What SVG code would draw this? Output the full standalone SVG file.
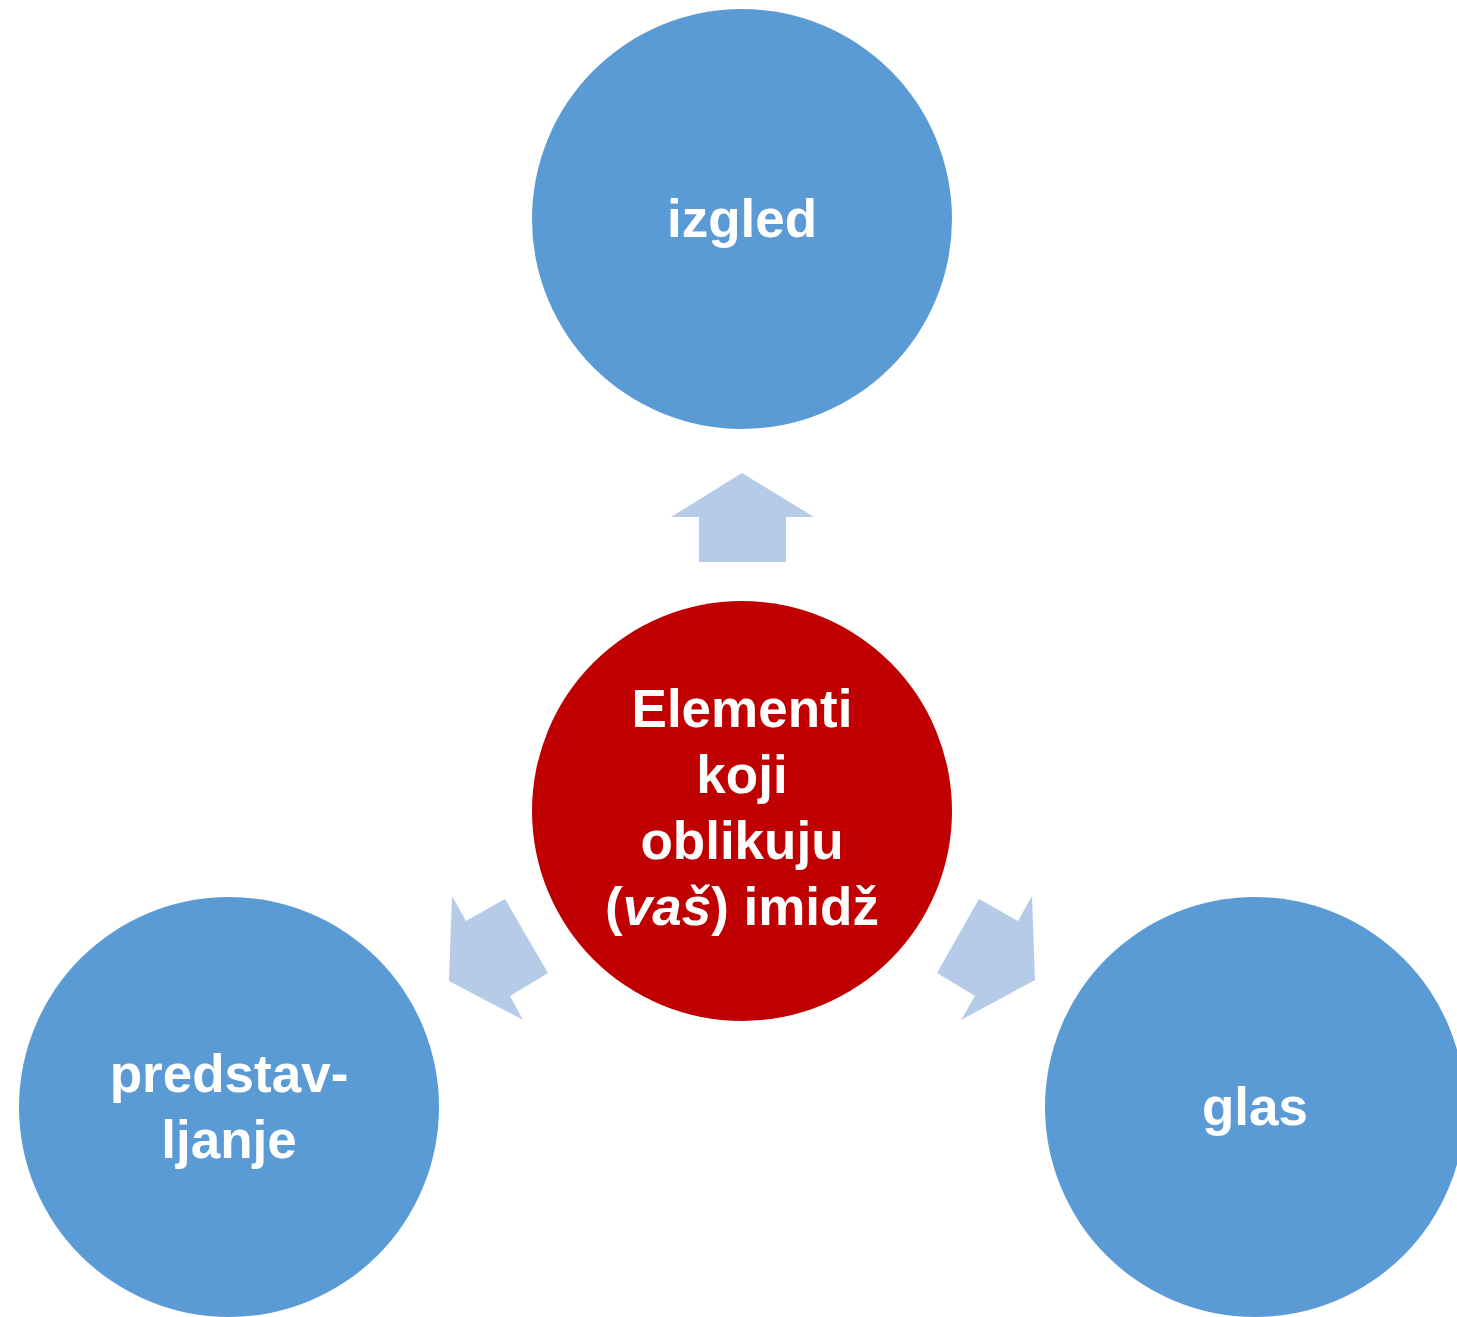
<svg xmlns="http://www.w3.org/2000/svg" width="1457" height="1317" viewBox="0 0 1457 1317">
<style>
.blue{fill:#5B9BD5}
.red{fill:#C00000}
.arr{fill:#B5CBE8}
.t{font-family:"Liberation Sans",Arial,sans-serif;font-weight:bold;font-size:53px;fill:#FFFFFF;text-anchor:middle}
</style>
<rect width="1457" height="1317" fill="#FFFFFF"/>
<g id="connectors">
<polygon class="arr" points="699,562 786,562 786,517 814,517 742,473 671,517 699,517"/>
<polygon class="arr" points="452,896 466,921 505,899 548,973 510,996 523,1020 449,981"/>
<polygon class="arr" points="1032,896 1018,921 979,899 937,973 975,996 961,1020 1035,980"/>
</g>
<g id="node-izgled">
<circle class="blue" cx="742" cy="219" r="210"/>
<text class="t" x="742" y="237">izgled</text>
</g>
<g id="node-center">
<circle class="red" cx="742" cy="811" r="210"/>
<text class="t" x="742" y="727">Elementi</text>
<text class="t" x="742" y="793">koji</text>
<text class="t" x="742" y="859">oblikuju</text>
<text class="t" x="742" y="925">(<tspan font-style="italic">vaš</tspan>) imidž</text>
</g>
<g id="node-predstavljanje">
<circle class="blue" cx="229" cy="1107" r="210"/>
<text class="t" x="229" y="1092">predstav-</text>
<text class="t" x="229" y="1158">ljanje</text>
</g>
<g id="node-glas">
<circle class="blue" cx="1255" cy="1107" r="210"/>
<text class="t" x="1255" y="1125">glas</text>
</g>
</svg>
